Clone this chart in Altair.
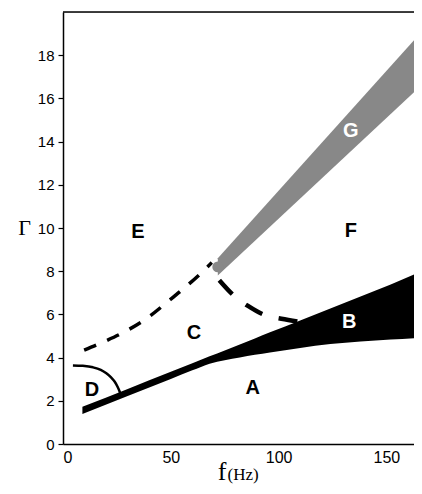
import altair as alt
import pandas as pd

# Region B / line A band (thick solid line that opens into black wedge)
band_x = [9, 30, 50, 60, 68, 75, 82, 89, 96, 110, 124, 138, 152, 166.5]
band_lo = [1.39, 2.22, 3.01, 3.41, 3.72, 3.88, 4.01, 4.13, 4.24, 4.45, 4.63, 4.75, 4.84, 4.92]
band_hi = [1.72, 2.55, 3.34, 3.74, 4.06, 4.33, 4.61, 4.89, 5.17, 5.72, 6.27, 6.83, 7.38, 8.01]

# Region G grey band
g_x = [71.8, 166.5]
g_lo = [7.80, 16.63]
g_hi = [8.60, 19.10]
g_cap_x = [71.8]
g_cap_y = [8.2]

# dashed boundary E/C
d1_x = [9.8, 20, 30, 40, 48.7, 56, 63.4, 69]
d1_y = [4.35, 4.78, 5.27, 5.9, 6.6, 7.2, 7.85, 8.4]

# dashed boundary F/C
d2_x = [72.5, 78.9, 85.8, 93.6, 101.3, 109.8]
d2_y = [7.58, 6.90, 6.39, 5.97, 5.80, 5.66]

# curve bounding D
dc_x = [4.6, 9, 13.9, 17.5, 20.1, 22.3, 24.0, 25.3, 26.3, 27.1]
dc_y = [3.64, 3.62, 3.55, 3.43, 3.27, 3.08, 2.88, 2.65, 2.42, 2.19]

# region labels
lab_text = ["E", "F", "G", "C", "B", "A", "D"]
lab_x = [34.7, 133.5, 133.5, 60.8, 132.8, 88.0, 13.4]
lab_y = [9.8, 9.85, 14.48, 5.12, 5.66, 2.59, 2.52]
lab_color = ["black", "black", "white", "black", "white", "black", "black"]

y_ticks = [0, 2, 4, 6, 8, 10, 12, 14, 16, 18]
x_ticks = [0, 50, 100, 150]

W, H = 351, 432
xs = alt.Scale(domain=[0, 162.8], nice=False, zero=False)
ys = alt.Scale(domain=[0, 20], nice=False)

xax = alt.Axis(values=x_ticks, title=None, grid=False, tickSize=0, labelPadding=5,
               labelFontSize=16, labelFont="Liberation Sans", labelColor="black",
               domainColor="black", domainWidth=1.5)
yax = alt.Axis(values=y_ticks, title=None, grid=False, tickSize=5, tickWidth=1.2,
               tickColor="black", labelPadding=4, labelFontSize=15,
               labelFont="Liberation Sans", labelColor="black",
               domainColor="black", domainWidth=1.5)

band_df = pd.DataFrame({"x": band_x, "lo": band_lo, "hi": band_hi})
band = alt.Chart(band_df).mark_area(color="black", interpolate="monotone", clip=True).encode(
    x=alt.X("x:Q", scale=xs, axis=xax),
    y=alt.Y("lo:Q", scale=ys, axis=yax),
    y2="hi:Q",
)

g_df = pd.DataFrame({"x": g_x, "lo": g_lo, "hi": g_hi})
g_area = alt.Chart(g_df).mark_area(color="#888888", clip=True).encode(
    x=alt.X("x:Q", scale=xs), y=alt.Y("lo:Q", scale=ys), y2="hi:Q"
)
cap_df = pd.DataFrame({"x": g_cap_x, "y": g_cap_y})
g_cap = alt.Chart(cap_df).mark_circle(color="#888888", opacity=1, size=120).encode(
    x=alt.X("x:Q", scale=xs), y=alt.Y("y:Q", scale=ys)
)

d1 = alt.Chart(pd.DataFrame({"x": d1_x, "y": d1_y})).mark_line(
    color="black", strokeWidth=3.5, strokeDash=[13, 12], interpolate="monotone"
).encode(x=alt.X("x:Q", scale=xs), y=alt.Y("y:Q", scale=ys))

d2 = alt.Chart(pd.DataFrame({"x": d2_x, "y": d2_y})).mark_line(
    color="black", strokeWidth=4.5, strokeDash=[19, 17], interpolate="monotone"
).encode(x=alt.X("x:Q", scale=xs), y=alt.Y("y:Q", scale=ys))

dc = alt.Chart(pd.DataFrame({"x": dc_x, "y": dc_y})).mark_line(
    color="black", strokeWidth=2.5, interpolate="monotone"
).encode(x=alt.X("x:Q", scale=xs), y=alt.Y("y:Q", scale=ys))

lab_df = pd.DataFrame({"t": lab_text, "x": lab_x, "y": lab_y, "c": lab_color})
labels = alt.Chart(lab_df).mark_text(
    font="Liberation Sans", fontWeight="bold", fontSize=20, align="center", baseline="middle"
).encode(
    x=alt.X("x:Q", scale=xs), y=alt.Y("y:Q", scale=ys), text="t:N",
    color=alt.Color("c:N", scale=None),
)

top_line = alt.Chart(pd.DataFrame({"a": [0]})).mark_rule(color="black", strokeWidth=1.5).encode(
    x=alt.value(0), x2=alt.value(W), y=alt.value(0)
)

gamma = alt.Chart(pd.DataFrame({"t": ["Γ"]})).mark_text(
    font="Liberation Serif", fontSize=22, align="center", baseline="middle"
).encode(text="t:N", x=alt.value(-38.5), y=alt.value(216))

f_lab = alt.Chart(pd.DataFrame({"t": ["f"]})).mark_text(
    font="Liberation Serif", fontSize=26, align="center", baseline="alphabetic"
).encode(text="t:N", x=alt.value(159), y=alt.value(468))

hz_lab = alt.Chart(pd.DataFrame({"t": ["(Hz)"]})).mark_text(
    font="Liberation Serif", fontSize=17, align="left", baseline="alphabetic"
).encode(text="t:N", x=alt.value(164.5), y=alt.value(468))

chart = alt.layer(
    band, d1, d2, g_area, g_cap, dc, labels, top_line, gamma, f_lab, hz_lab
).properties(
    width=W, height=H,
    autosize=alt.AutoSizeParams(type="none"),
    padding={"left": 55, "top": 4, "right": 0, "bottom": 42},
).configure_view(stroke=None).configure(background="white")

chart.save("out.html", embed_options={"renderer": "svg", "actions": False})
